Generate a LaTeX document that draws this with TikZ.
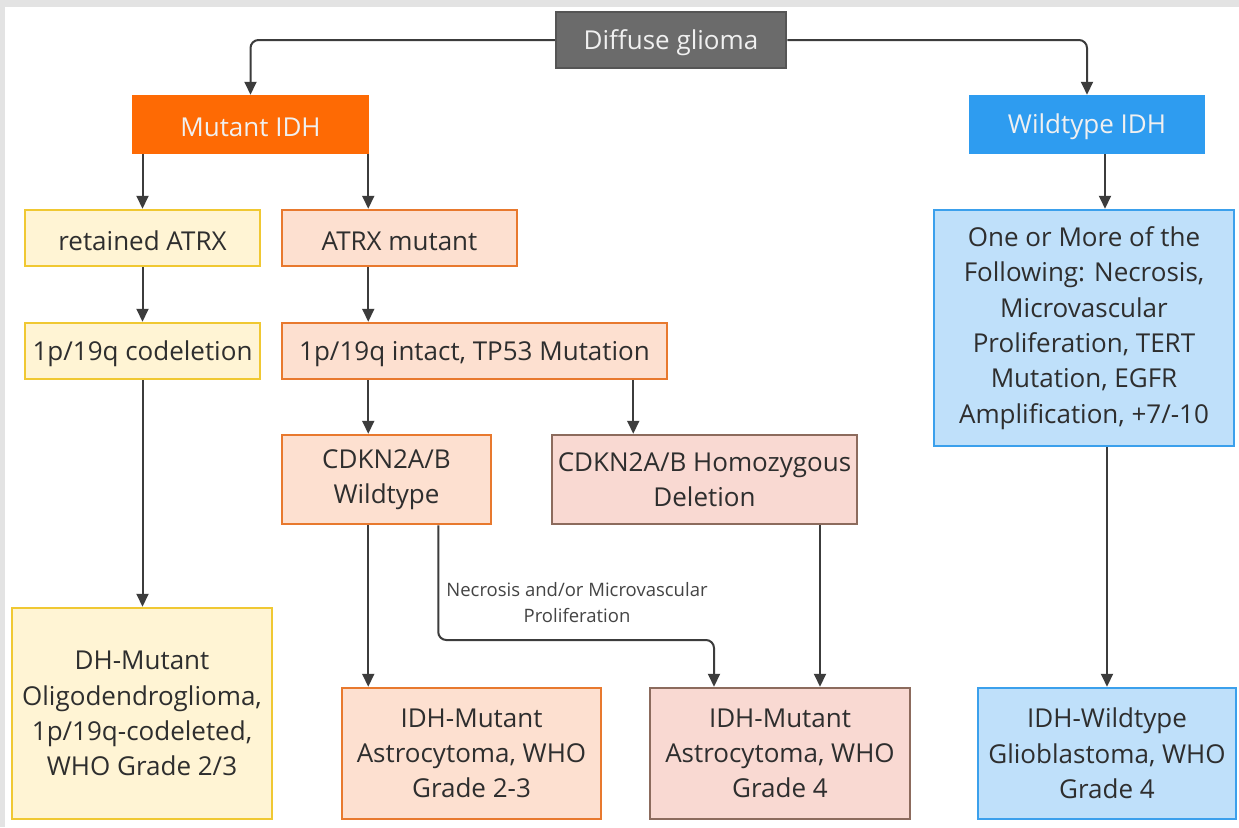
\documentclass[tikz,border=0pt]{standalone}
\usepackage{fontspec}
\setmainfont{Open Sans}
\usetikzlibrary{arrows.meta}
\definecolor{bggray}{HTML}{E3E3E3}
\definecolor{txt}{HTML}{2E2E2E}
\definecolor{arrc}{HTML}{3C3C3C}
\definecolor{dgfill}{HTML}{6B6B6B}
\definecolor{dgdraw}{HTML}{555555}
\definecolor{mutfill}{HTML}{FE6A04}
\definecolor{wtfill}{HTML}{2E9CF0}
\definecolor{yfill}{HTML}{FFF4D4}
\definecolor{ydraw}{HTML}{F0C832}
\definecolor{ofill}{HTML}{FDE0D0}
\definecolor{odraw}{HTML}{E8792E}
\definecolor{pfill}{HTML}{F9D9D2}
\definecolor{pdraw}{HTML}{8C6B5D}
\definecolor{bfill}{HTML}{BFE0FA}
\definecolor{bdraw}{HTML}{3BA0EC}
\definecolor{labc}{HTML}{444444}
\tikzset{
  box/.style={rectangle, line width=2.5pt, align=center, inner sep=0pt,
    text=txt, font=\fontsize{26}{35.3}\selectfont,
    execute at begin node={\rule{0pt}{25pt}}},
  mbox/.style={box, execute at begin node={\rule{0pt}{31pt}}},
  darkbox/.style={box, text=white!94!black},
  arr/.style={draw=arrc, line width=2pt, -{Triangle[length=13pt,width=12pt]}},
  lbl/.style={align=center, text=labc, font=\fontsize{18.5}{26}\selectfont, inner sep=0pt}
}
\begin{document}
\begin{tikzpicture}[x=1pt,y=-1pt]
\useasboundingbox (0,0) rectangle (1239,827);
\fill[bggray] (0,0) rectangle (1239,827);
\fill[white] (5,7) rectangle (1239,827);

\node[darkbox, fill=dgfill, draw=dgdraw, minimum width=230pt, minimum height=56pt] (dg) at (671,40) {Diffuse glioma};
\node[darkbox, fill=mutfill, draw=mutfill, minimum width=235pt, minimum height=57pt] (mut) at (250.5,124.5) {Mutant IDH};
\node[darkbox, fill=wtfill, draw=wtfill, minimum width=234pt, minimum height=57pt] (wt) at (1087,124.5) {Wildtype IDH};

\node[box, fill=yfill, draw=ydraw, minimum width=235pt, minimum height=56pt] (ret) at (142.5,238) {retained ATRX};
\node[box, fill=ofill, draw=odraw, minimum width=235pt, minimum height=56pt] (atm) at (399.5,238) {ATRX mutant};
\node[box, fill=yfill, draw=ydraw, minimum width=235pt, minimum height=56pt] (cod) at (142.5,351) {1p/19q codeletion};
\node[box, fill=ofill, draw=odraw, minimum width=385pt, minimum height=56pt] (int) at (474.5,351) {1p/19q intact, TP53 Mutation};
\node[mbox, fill=ofill, draw=odraw, minimum width=209pt, minimum height=89pt] (cwt) at (386.5,479.5) {CDKN2A/B\\Wildtype};
\node[mbox, fill=pfill, draw=pdraw, minimum width=305pt, minimum height=89pt] (hom) at (704.5,479.5) {CDKN2A/B Homozygous\\Deletion};
\node[mbox, fill=bfill, draw=bdraw, minimum width=300pt, minimum height=236pt] (one) at (1084,328) {One or More of the\\Following: Necrosis,\\Microvascular\\Proliferation, TERT\\Mutation, EGFR\\Amplification, +7/-10};

\node[mbox, fill=yfill, draw=ydraw, minimum width=260pt, minimum height=211pt] (oli) at (142,713.5) {DH-Mutant\\Oligodendroglioma,\\1p/19q-codeleted,\\WHO Grade 2/3};
\node[mbox, fill=ofill, draw=odraw, minimum width=259pt, minimum height=131pt] (a23) at (471.5,753.5) {IDH-Mutant\\Astrocytoma, WHO\\Grade 2-3};
\node[mbox, fill=pfill, draw=pdraw, minimum width=260pt, minimum height=131pt] (a4) at (780,753.5) {IDH-Mutant\\Astrocytoma, WHO\\Grade 4};
\node[mbox, fill=bfill, draw=bdraw, minimum width=258pt, minimum height=131pt] (gbm) at (1107,753.5) {IDH-Wildtype\\Glioblastoma, WHO\\Grade 4};

\node[lbl] (lab) at (577,603) {Necrosis and/or Microvascular\\Proliferation};

\coordinate (mx) at ([xshift=-1pt]mut.south east);
\coordinate (p1) at ([xshift=-35pt]int.south east);
\coordinate (q1) at ([xshift=-54pt]cwt.south east);
\coordinate (q2) at ([xshift=-66pt]a4.north);
\coordinate (bend) at (0,640);
\coordinate (r1) at ([xshift=40pt]a4.north);
\coordinate (s1) at ([xshift=18pt]wt.south);

\draw[arr, rounded corners=8pt] (dg.west) -| (mut.north);
\draw[arr, rounded corners=8pt] (dg.east) -| (wt.north);
\draw[arr] (ret.north |- mut.south) -- (ret.north);
\draw[arr] (mx) -- (mx |- atm.north);
\draw[arr] (ret.south) -- (cod.north);
\draw[arr] (cod.south) -- (cod.south |- oli.north);
\draw[arr] (mx |- atm.south) -- (mx |- int.north);
\draw[arr] (mx |- int.south) -- (mx |- cwt.north);
\draw[arr] (p1) -- (p1 |- hom.north);
\draw[arr] (mx |- cwt.south) -- (mx |- a23.north);
\draw[arr, rounded corners=8pt] (q1) -- (q1 |- bend) -| (q2);
\draw[arr] (r1 |- hom.south) -- (r1);
\draw[arr] (s1) -- (s1 |- one.north);
\draw[arr] (gbm.north |- one.south) -- (gbm.north);
\end{tikzpicture}
\end{document}
